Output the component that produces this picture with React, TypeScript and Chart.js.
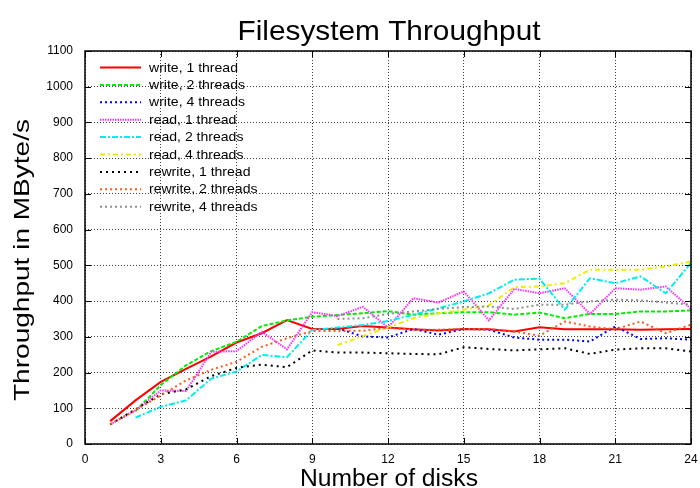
import React, { useEffect, useRef } from "react";
import { Chart, registerables } from "chart.js";

Chart.register(...registerables);

const disks = [1, 2, 3, 4, 5, 6, 7, 8, 9, 10, 11, 12, 13, 14, 15, 16, 17, 18, 19, 20, 21, 22, 23, 24];

const write1 = [64, 122, 174, 210, 245, 284, 310, 347, 322, 322, 330, 326, 321, 318, 322, 321, 315, 327, 321, 321, 321, 320, 321, 322];
const write2 = [null, 92, 165, 220, 260, 286, 330, 346, 356, 361, 366, 372, 362, 366, 369, 369, 362, 368, 352, 364, 364, 371, 371, 374];
const write4 = [null, null, null, null, null, null, null, null, null, 324, 301, 298, 322, 306, 322, 320, 298, 292, 292, 287, 329, 294, 296, 292];
const read1 = [55, 94, 150, 148, 258, 260, 314, 265, 369, 358, 384, 326, 408, 396, 427, 346, 434, 422, 436, 364, 436, 432, 441, 378];
const read2 = [null, 74, 104, 122, 183, 203, 249, 243, 319, 326, 333, 344, 362, 380, 399, 422, 460, 463, 376, 464, 450, 469, 422, 507];
const read4 = [null, null, null, null, null, null, null, null, null, 277, 302, 326, 352, 366, 376, 388, 439, 441, 450, 488, 488, 488, 497, 511];
const rewrite1 = [55, 97, 139, 153, 190, 213, 222, 215, 262, 256, 256, 254, 252, 251, 271, 266, 262, 265, 268, 252, 264, 268, 268, 259];
const rewrite2 = [55, 95, 136, 178, 208, 230, 272, 296, 316, 316, 317, 325, 320, 320, 322, 322, 315, 303, 343, 329, 321, 343, 310, 334];
const rewrite4 = [null, null, null, null, null, null, null, null, null, 350, 352, 364, 371, 378, 383, 385, 378, 390, 390, 399, 404, 402, 396, 390];

const seriesLabels = [
  "write, 1 thread",
  "write, 2 threads",
  "write, 4 threads",
  "read, 1 thread",
  "read, 2 threads",
  "read, 4 threads",
  "rewrite, 1 thread",
  "rewrite, 2 threads",
  "rewrite, 4 threads",
];
const seriesValues = [write1, write2, write4, read1, read2, read4, rewrite1, rewrite2, rewrite4];
const seriesColors = ["#ff0000", "#00ee00", "#0000ff", "#ff33ff", "#00eeee", "#eeee00", "#000000", "#ff5a1e", "#909090"];
const seriesDash: number[][] = [[], [4, 2], [2, 3], [1.5, 1], [6, 2, 2, 2], [5, 3, 2, 3], [2, 4], [2, 3], [2, 3]];

const titleText = "Filesystem Throughput";
const xTitle = "Number of disks";
const yTitle = "Throughput in MByte/s";
const FONT = '"Liberation Sans", Arial, Helvetica, sans-serif';

function stretchText(ctx: CanvasRenderingContext2D, text: string, x: number, y: number, font: string, target: number, rot = 0) {
  ctx.save();
  ctx.font = font;
  const w = ctx.measureText(text).width;
  const sx = target > 0 ? target / w : 1;
  ctx.translate(x, y);
  if (rot) ctx.rotate(rot);
  ctx.scale(sx, 1);
  ctx.fillStyle = "#000";
  ctx.textAlign = "center";
  ctx.textBaseline = "alphabetic";
  ctx.fillText(text, 0, 0);
  ctx.restore();
}

const decorPlugin = {
  id: "decor",
  afterDraw(chart: any) {
    const ctx: CanvasRenderingContext2D = chart.ctx;
    const { left, right, top, bottom } = chart.chartArea;
    const xs = chart.scales.x;
    const ys = chart.scales.y;
    ctx.save();
    ctx.strokeStyle = "#000";
    ctx.lineWidth = 1;
    ctx.setLineDash([]);
    ctx.beginPath();
    xs.ticks.forEach((t: any) => {
      const px = Math.round(xs.getPixelForValue(t.value)) + 0.5;
      ctx.moveTo(px, bottom);
      ctx.lineTo(px, bottom - 6);
      ctx.moveTo(px, top);
      ctx.lineTo(px, top + 6);
    });
    ys.ticks.forEach((t: any) => {
      const py = Math.round(ys.getPixelForValue(t.value)) + 0.5;
      ctx.moveTo(left, py);
      ctx.lineTo(left + 6, py);
      ctx.moveTo(right, py);
      ctx.lineTo(right - 6, py);
    });
    ctx.stroke();
    ctx.lineWidth = 1.5;
    ctx.strokeRect(Math.round(left), Math.round(top), Math.round(right - left), Math.round(bottom - top));

    stretchText(ctx, titleText, 389, 40, `28px ${FONT}`, 303);
    stretchText(ctx, xTitle, 389, 486, `23px ${FONT}`, 178);
    stretchText(ctx, yTitle, 29, 260, `22px ${FONT}`, 282, -Math.PI / 2);

    chart.data.datasets.forEach((ds: any, i: number) => {
      const y = 67.5 + 17.4 * i;
      ctx.save();
      ctx.strokeStyle = ds.borderColor;
      ctx.lineWidth = 2;
      ctx.setLineDash(ds.borderDash || []);
      ctx.beginPath();
      ctx.moveTo(100, y);
      ctx.lineTo(141, y);
      ctx.stroke();
      ctx.restore();
      ctx.save();
      ctx.font = `13px ${FONT}`;
      ctx.fillStyle = "#000";
      ctx.textAlign = "left";
      ctx.textBaseline = "middle";
      ctx.translate(149, y + 0.5);
      ctx.scale(1.08, 1);
      ctx.fillText(ds.label, 0, 0);
      ctx.restore();
    });
    ctx.restore();
  },
};

export default function App() {
  const ref = useRef<HTMLCanvasElement | null>(null);
  useEffect(() => {
    if (!ref.current) return;
    const datasets = seriesLabels.map((label, i) => ({
      label,
      data: disks.map((d, j) => ({ x: d, y: seriesValues[i][j] })),
      borderColor: seriesColors[i],
      backgroundColor: seriesColors[i],
      borderDash: seriesDash[i],
      borderWidth: 2,
      pointRadius: 0,
      tension: 0,
      fill: false,
      order: seriesLabels.length - i,
    }));
    const chart = new Chart(ref.current, {
      type: "line",
      data: { datasets },
      options: {
        animation: false,
        responsive: false,
        devicePixelRatio: 1,
        layout: { padding: { left: 0, right: 9, top: 51, bottom: 0 } },
        plugins: { legend: { display: false }, title: { display: false }, tooltip: { enabled: false } },
        scales: {
          x: {
            type: "linear",
            min: 0,
            max: 24,
            afterFit: (s: any) => {
              s.height = 44;
              s.paddingLeft = 0;
              s.paddingRight = 0;
            },
            ticks: {
              stepSize: 3,
              padding: 8,
              color: "#000",
              font: { family: FONT, size: 12 },
              maxRotation: 0,
              callback: (v: any) => String(v),
            },
            grid: { color: "rgba(0,0,0,0.75)", lineWidth: 1, drawTicks: false },
            border: { display: false, dash: [1, 2] },
          },
          y: {
            type: "linear",
            min: 0,
            max: 1100,
            afterFit: (s: any) => {
              s.width = 85;
              s.paddingTop = 0;
              s.paddingBottom = 0;
            },
            ticks: {
              stepSize: 100,
              padding: 12,
              color: "#000",
              font: { family: FONT, size: 12 },
              callback: (v: any) => String(v),
            },
            grid: { color: "rgba(0,0,0,0.75)", lineWidth: 1, drawTicks: false },
            border: { display: false, dash: [1, 2] },
          },
        },
      },
      plugins: [decorPlugin],
    });
    return () => chart.destroy();
  }, []);
  return (
    <div style={{ position: "absolute", left: 0, top: 0, width: 700, height: 488 }}>
      <canvas ref={ref} width={700} height={488} />
    </div>
  );
}
